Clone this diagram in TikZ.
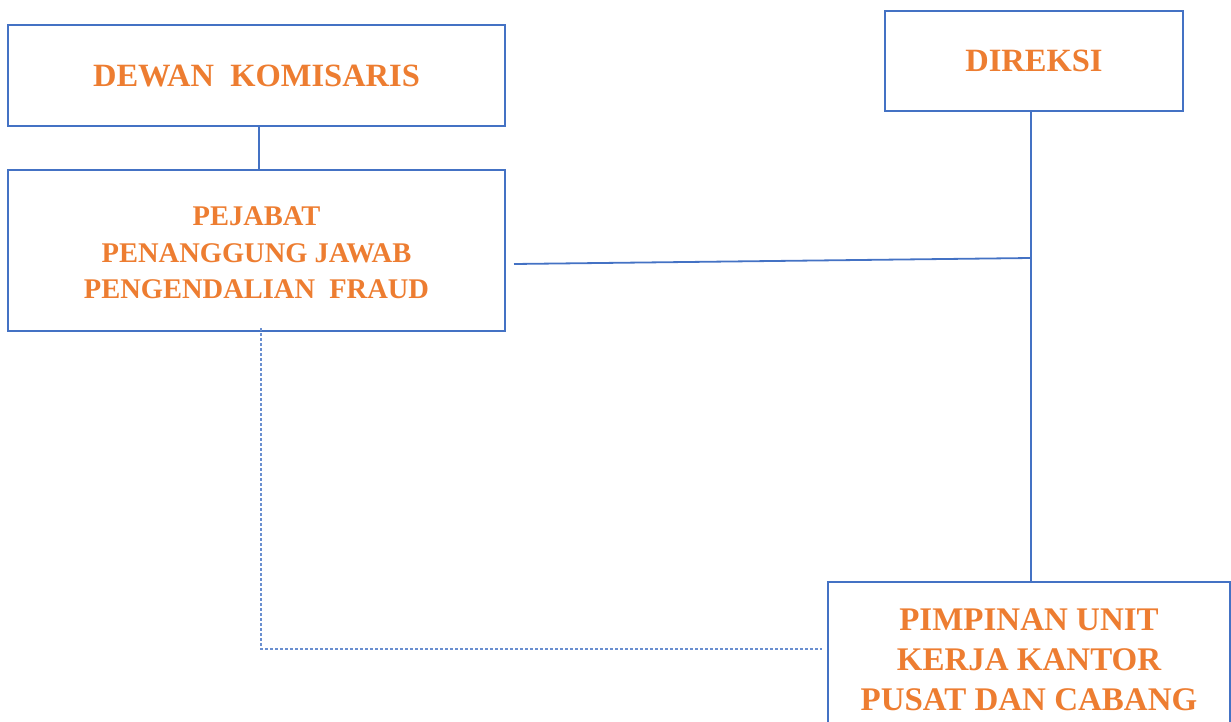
\documentclass[tikz,border=0pt]{standalone}
\usepackage{fontspec}
\setmainfont{Liberation Serif}
\definecolor{boxblue}{HTML}{4472C4}
\definecolor{txtorange}{HTML}{ED7D31}
\definecolor{dashblue}{HTML}{6A8FD0}
\begin{document}
\begin{tikzpicture}[x=1pt,y=-1pt,
  orgbox/.style={draw=boxblue,line width=1.6pt,fill=none,inner sep=0pt,align=center,
    text=txtorange,font=\bfseries},
  conn/.style={draw=boxblue,line width=1.8pt},
  dashconn/.style={draw=dashblue,line width=1.1pt,dash pattern=on 3pt off 2pt}]
\useasboundingbox (0,0) rectangle (1231,722);
\node[orgbox,minimum width=497pt,minimum height=101pt,font=\bfseries\fontsize{32.5}{38}\selectfont] (dk) at (256.5,75.5) {DEWAN\ \ KOMISARIS};
\node[orgbox,minimum width=497pt,minimum height=161pt] (pj) at (256.5,250.5) {};
\node[text=txtorange,align=center,inner sep=0pt,font=\bfseries\fontsize{28.5}{36.5}\selectfont] (pjt) at (256.5,253) {PEJABAT\\PENANGGUNG\ JAWAB\\PENGENDALIAN\ \ FRAUD};
\node[orgbox,minimum width=298pt,minimum height=100pt,font=\bfseries\fontsize{32.5}{38}\selectfont] (dr) at (1034,61) {DIREKSI};
\node[orgbox,minimum width=402pt,minimum height=156pt,font=\bfseries\fontsize{33}{40}\selectfont] (pm) at (1029,660) {PIMPINAN UNIT\\KERJA KANTOR\\PUSAT DAN CABANG};
\coordinate (vk) at (259,0);
\coordinate (jn) at (1031,258);
\coordinate (hs) at (514,264);
\coordinate (ds) at (261,328);
\coordinate (dc) at (261,649);
\coordinate (de) at (822,649);
\draw[conn] (dk.south -| vk) -- (pj.north -| vk);
\draw[conn] (dr.south -| jn) -- (pm.north -| jn);
\draw[conn] (hs) -- (jn);
\draw[dashconn] (ds) -- (dc) -- (de);
\end{tikzpicture}
\end{document}
